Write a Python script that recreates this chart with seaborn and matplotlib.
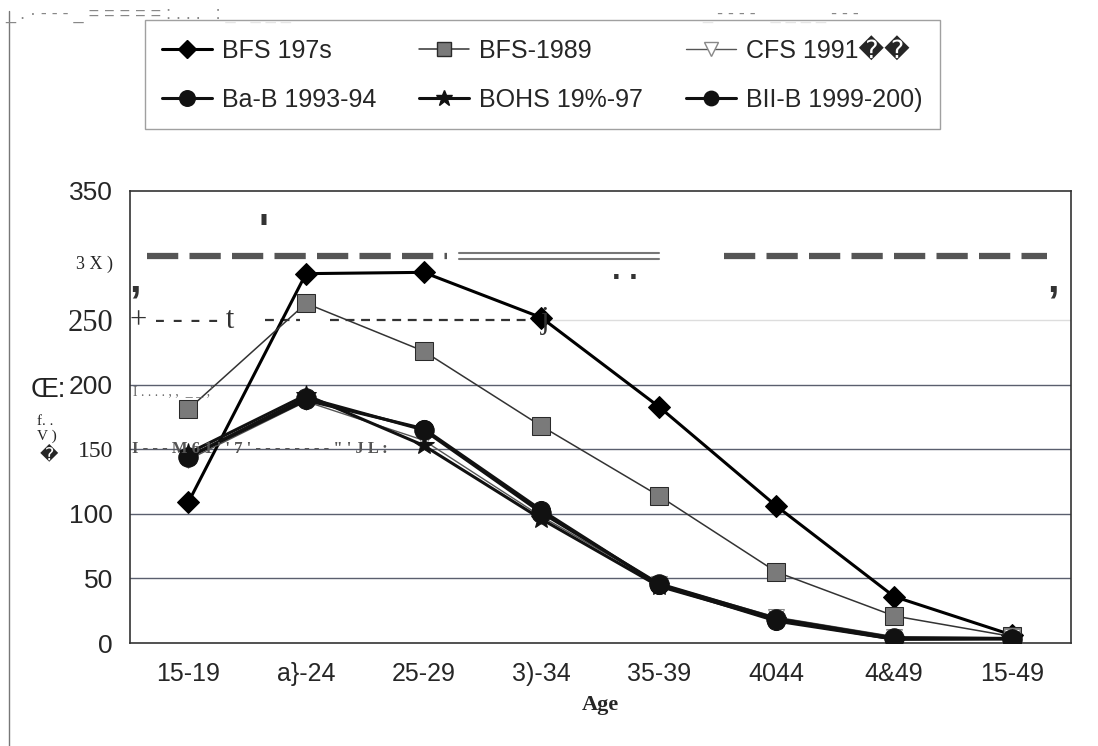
import numpy as np
import pandas as pd
import matplotlib
matplotlib.use("Agg")
import matplotlib.pyplot as plt
from matplotlib.lines import Line2D
import seaborn as sns

# age groups as printed on the scanned chart
ages = ['15-19', 'a}-24', '25-29', '3)-34', '35-39', '4044', '4&49', '15-49']

# age specific fertility rates
bfs_1975 = [109, 286, 287, 252, 183, 106, 36, 6.3]
bfs_1989 = [181, 263, 226, 168, 114, 55, 21, 5.1]
cfs_1991 = [142, 187, 157, 98, 46, 20, 5, 4.3]
bdhs_1993 = [144, 190, 165, 101, 46, 19, 4, 3.4]
bdhs_1996 = [147, 192, 153, 96, 44, 18, 3, 3.3]
bdhs_1999 = [144, 188, 166, 103, 45, 17, 3, 3.3]

labels = ['BFS 197s', 'BFS-1989', 'CFS 1991\ufffd\ufffd',
          'Ba-B 1993-94', 'BOHS 19%-97', 'BII-B 1999-200)']
yticklabels = ['0', '50', '100', '150', '200', '250', '3 X )', '350']

sns.set_style('white')
plt.rcParams['font.family'] = ['Liberation Sans Narrow', 'Liberation Sans', 'DejaVu Sans']
serif = ['Liberation Serif', 'DejaVu Serif']

fig = plt.figure(figsize=(10.98, 7.46), dpi=100)
ax = fig.add_axes([0.118, 0.138, 0.857, 0.606])

x = np.arange(len(ages))
series = [bfs_1975, bfs_1989, cfs_1991, bdhs_1993, bdhs_1996, bdhs_1999]
styles = [
    dict(color='black', lw=2.2, marker='D', ms=11, mfc='black', mec='black'),
    dict(color='#333333', lw=1.1, marker='s', ms=13, mfc='#7a7a7a', mec='#2a2a2a'),
    dict(color='#555555', lw=1.0, marker='v', ms=12, mfc='white', mec='#888888'),
    dict(color='#111111', lw=2.2, marker='o', ms=14, mfc='#111111', mec='#111111'),
    dict(color='#111111', lw=2.2, marker='*', ms=15, mfc='#111111', mec='#111111'),
    dict(color='#111111', lw=2.2, marker='o', ms=13, mfc='#111111', mec='#111111'),
]

handles = []
for vals, lab, st in zip(series, labels, styles):
    df = pd.DataFrame({'x': x, 'y': vals})
    sns.lineplot(data=df, x='x', y='y', ax=ax, color=st['color'], lw=st['lw'],
                 marker=st['marker'], markersize=st['ms'], markerfacecolor=st['mfc'],
                 markeredgecolor=st['mec'], zorder=3)
    handles.append(Line2D([], [], color=st['color'], lw=st['lw'], marker=st['marker'],
                          ms=st['ms'] * 0.8, mfc=st['mfc'], mec=st['mec']))

ax.set_xlim(-0.5, len(ages) - 0.5)
ax.set_ylim(0, 350)
ax.set_yticks(range(0, 351, 50))
ax.set_yticklabels(yticklabels)
ax.set_xticks(x)
ax.set_xticklabels(ages, fontsize=18)
ax.set_xticks(np.arange(0.5, len(ages) - 0.5, 1), minor=True)
ax.tick_params(axis='x', which='major', length=0, pad=14)
ax.tick_params(axis='x', which='minor', length=6, width=1, color='#333333', direction='out')
ax.tick_params(axis='y', length=0, pad=12, labelsize=19)
ax.set_xlabel('Age', family=serif, fontweight='bold', fontsize=16, labelpad=6)
ax.set_ylabel('')

# odd fonts of the scanned y labels
for t in ax.get_yticklabels():
    txt = t.get_text()
    if txt == '3 X )':
        t.set_family(serif)
        t.set_fontsize(13)
        t.set_va('top')
    elif txt == '250':
        t.set_family(serif)
        t.set_fontsize(22)
    elif txt == '150':
        t.set_family(serif)
        t.set_fontsize(17)

# gridlines, the 300 and 250 ones came out dashed in the scan
for v in [50, 100, 150, 200]:
    ax.axhline(v, color='#5a5f6e', lw=1.0, zorder=1)
ax.plot([-0.35, 2.2], [300, 300], color='#555555', lw=4.5, ls=(0, (5, 1.8)), zorder=2)
ax.plot([2.3, 4.0], [302, 302], color='#777777', lw=1.5, zorder=2)
ax.plot([2.3, 4.0], [297, 297], color='#777777', lw=1.5, zorder=2)
ax.plot([4.55, 7.3], [300, 300], color='#555555', lw=4.5, ls=(0, (5, 1.8)), zorder=2)
ax.plot([0.65, 0.95], [250, 250], color='#333333', lw=1.6, ls=(0, (4, 3)), zorder=2)
ax.plot([1.2, 3.0], [250, 250], color='#333333', lw=1.6, ls=(0, (4, 3)), zorder=2)
ax.plot([3.0, 7.5], [250, 250], color='#dddddd', lw=1.0, zorder=1)

for s in ax.spines.values():
    s.set_color('#333333')
    s.set_linewidth(1.2)

# scan leftovers
ax.text(-0.48, 150, "I - - - M 6 1 ' ' 7 ' - - - - - - - - \" ' J L :", family=serif,
        fontsize=12, fontweight='bold', color='#555555', va='center')
ax.text(-0.47, 200, "I . . . . , ,  _ _ ,'", family=serif, fontsize=10,
        color='#666666', va='top')
ax.text(-0.5, 250, "+ - - - - t", family=serif, fontsize=22, color='#333333', va='center')
ax.text(3.0, 250, "j", family=serif, fontsize=22, color='#333333', va='center')
ax.text(0.6, 303, "'", fontsize=30, fontweight='bold', color='#333333', va='bottom')
ax.text(-0.5, 296, ",", fontsize=30, fontweight='bold', color='#333333', va='top')
ax.text(7.3, 296, ",", fontsize=30, fontweight='bold', color='#333333', va='top')
ax.text(3.6, 288, ". .", fontsize=22, fontweight='bold', color='#333333', va='center')
fig.text(0.028, 0.468, 'Œ:', fontsize=20, color='#222222')
fig.text(0.034, 0.43, 'f. .', family=serif, fontsize=11)
fig.text(0.034, 0.41, 'V )', family=serif, fontsize=11)
fig.text(0.036, 0.385, '\ufffd', fontsize=13)
fig.text(0.005, 0.975, "_ . · - - - _ = = = = = : . . .   : _   _ _ _", color='#888888',
         fontsize=13)
fig.text(0.64, 0.975, "_ - - - -   _ _ _ _ - - -", color='#888888', fontsize=13)
fig.add_artist(Line2D([0.008, 0.008], [0.0, 0.985], color='#777777', lw=1))

# legend spans 3 columns, filled column by column
order = [0, 3, 1, 4, 2, 5]
leg = fig.legend([handles[i] for i in order], [labels[i] for i in order], ncol=3,
                 loc='upper left', bbox_to_anchor=(0.132, 0.839, 0.724, 0.134),
                 mode='expand', fontsize=18, frameon=True, fancybox=False,
                 handlelength=2.0, handletextpad=0.4, borderaxespad=0,
                 borderpad=0.7, columnspacing=0.8, labelspacing=1.0)
leg.get_frame().set_edgecolor('#888888')
leg.get_frame().set_linewidth(1.0)

fig.savefig('out.png', dpi=100)
